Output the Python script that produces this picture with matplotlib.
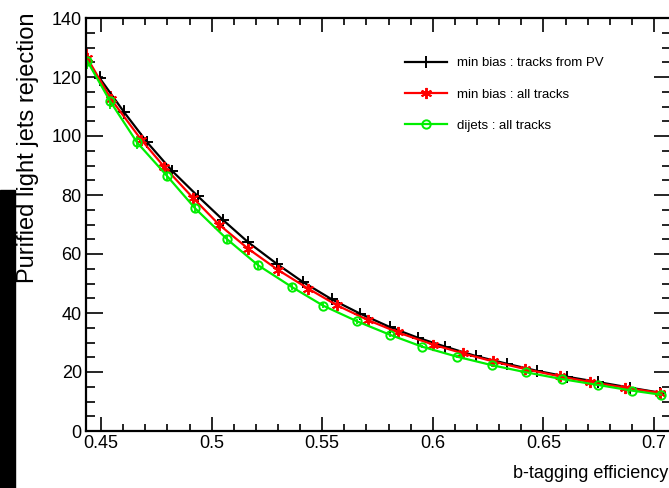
import matplotlib
matplotlib.use("Agg")
import matplotlib.pyplot as plt
from matplotlib.lines import Line2D
from matplotlib.patches import Rectangle

plt.rcParams['font.family'] = ['Liberation Sans', 'DejaVu Sans']

# min bias : tracks from PV
pv_eff = [0.4495, 0.4604, 0.4708, 0.4821, 0.4939, 0.5052, 0.5165, 0.5296, 0.5413, 0.5544, 0.5671,
          0.5807, 0.5933, 0.6056, 0.6195, 0.6335, 0.6471, 0.6607, 0.6747, 0.6891, 0.7027]
pv_rej = [119.5, 108.1, 97.9, 88.2, 79.5, 71.5, 64.0, 56.6, 50.5, 44.6, 39.8,
          35.2, 31.6, 28.6, 25.4, 22.8, 20.4, 18.4, 16.6, 14.7, 13.0]
pv_err = [2.5, 2.3, 2.0, 1.8, 1.6, 1.4, 1.2, 1.0, 0.9, 0.8, 0.7,
          0.6, 0.5, 0.5, 0.4, 0.4, 0.3, 0.3, 0.3, 0.3, 0.3]

# min bias : all tracks
mb_eff = [0.4437, 0.4545, 0.4681, 0.4785, 0.4916, 0.5033, 0.5165, 0.5300, 0.5436, 0.5567,
          0.5707, 0.5843, 0.6001, 0.6137, 0.6272, 0.6417, 0.6575, 0.6711, 0.6869, 0.7027]
mb_rej = [126.5, 112.5, 98.8, 89.6, 79.0, 70.0, 61.8, 54.6, 48.3, 42.6,
          37.6, 33.4, 29.3, 26.3, 23.6, 21.0, 18.5, 16.6, 14.7, 12.9]
mb_err = [3.0, 2.6, 2.2, 1.9, 1.7, 1.5, 1.3, 1.1, 1.0, 0.9,
          0.8, 0.7, 0.6, 0.5, 0.5, 0.4, 0.4, 0.4, 0.3, 0.3]

# dijets : all tracks
dj_eff = [0.4437, 0.4541, 0.4663, 0.4798, 0.4925, 0.5070, 0.5210, 0.5363, 0.5504, 0.5657,
          0.5807, 0.5951, 0.6109, 0.6268, 0.6421, 0.6584, 0.6747, 0.6900, 0.7032]
dj_rej = [125.5, 111.8, 97.8, 86.5, 75.5, 65.0, 56.2, 48.8, 42.5, 37.2,
          32.6, 28.6, 25.2, 22.3, 19.9, 17.6, 15.6, 13.7, 12.3]
dj_err = [2.8, 2.5, 2.2, 1.9, 1.6, 1.4, 1.2, 1.0, 0.9, 0.8,
          0.7, 0.6, 0.5, 0.5, 0.4, 0.4, 0.3, 0.3, 0.3]

labels = ['min bias : tracks from PV', 'min bias : all tracks', 'dijets : all tracks']
colors = ['black', '#ff0000', '#00ee00']
markers = ['+', (6, 2, 0), 'o']

W, H = 669, 488
fig = plt.figure(figsize=(W / 100, H / 100), dpi=100)
ax = fig.add_axes([86 / W, 1 - 431 / H, (671 - 86) / W, (431 - 18) / H])

series = [(pv_eff, pv_rej, pv_err), (mb_eff, mb_rej, mb_err), (dj_eff, dj_rej, dj_err)]
for (x, y, e), c, m in zip(series, colors, markers):
    ax.errorbar(x, y, yerr=e, color=c, lw=1.6, elinewidth=1.3, capsize=0,
                marker=m, ms=8 if m != 'o' else 6, mew=1.4,
                mfc='none' if m == 'o' else c)

ax.set_xlim(0.4432, 0.7077)
ax.set_ylim(0, 140)
ax.set_xticks([0.45, 0.5, 0.55, 0.6, 0.65, 0.7])
ax.set_xticklabels(['0.45', '0.5', '0.55', '0.6', '0.65', '0.7'])
ax.set_xticks([0.44 + 0.01 * i for i in range(1, 27)], minor=True)
ax.set_yticks(range(0, 141, 20))
ax.set_yticks(range(0, 141, 5), minor=True)
ax.tick_params(which='both', direction='in', top=True, right=True, width=1.2, labelsize=13, pad=3)
ax.tick_params(axis='y', which='major', length=12)
ax.tick_params(axis='y', which='minor', length=6.5)
ax.tick_params(axis='x', which='major', length=10)
ax.tick_params(axis='x', which='minor', length=5)
for s in ax.spines.values():
    s.set_linewidth(1.6)

fig.text(28 / W, 1 - 148 / H, 'Purified light jets rejection', rotation=90,
         ha='center', va='center', fontsize=17)
fig.text(668 / W, 1 - 478 / H, 'b-tagging efficiency', ha='right', va='baseline', fontsize=13)

handles = [Line2D([], [], color=c, lw=1.6, marker=m, ms=8 if m != 'o' else 6, mew=1.4,
                  mfc='none' if m == 'o' else c) for c, m in zip(colors, markers)]
ax.legend(handles, labels, loc='upper left', bbox_to_anchor=(405 / W, 1 - 57 / H),
          bbox_transform=fig.transFigure, frameon=False, fontsize=9.5,
          handlelength=3.2, handletextpad=0.75, labelspacing=1.45,
          borderpad=0, borderaxespad=0)

fig.patches.append(Rectangle((0, 0), 15 / W, (488 - 190) / H, transform=fig.transFigure,
                             color='black', zorder=10))

fig.savefig('out.png', dpi=100)
